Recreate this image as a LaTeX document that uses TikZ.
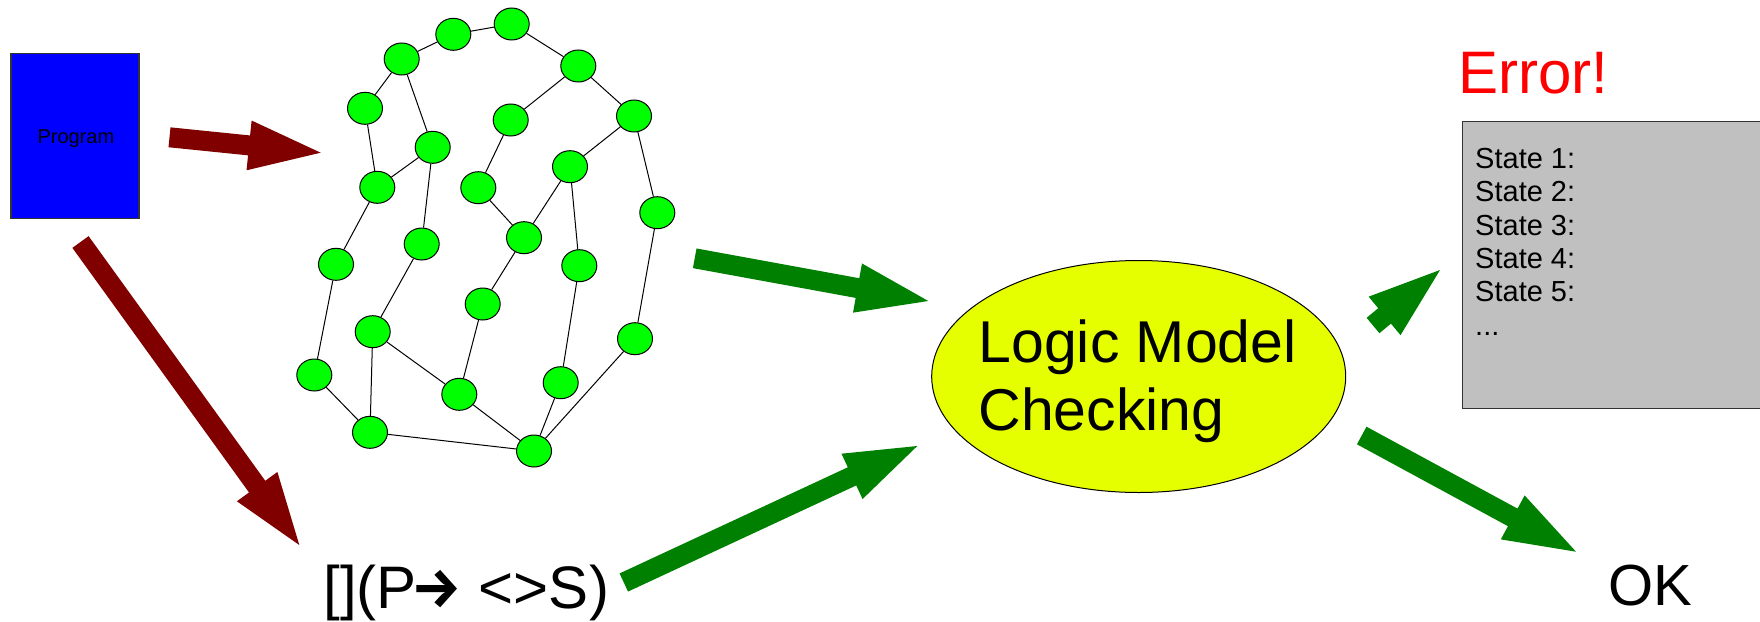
\documentclass[tikz,border=0pt]{standalone}
\usepackage{fontspec}
\setmainfont{Liberation Sans}
\newfontfamily\arrowfont{Fira Sans}
\usetikzlibrary{calc,shapes.geometric}

\definecolor{progblue}{HTML}{0000FF}
\definecolor{arrowred}{HTML}{800000}
\definecolor{arrowgreen}{HTML}{008000}
\definecolor{nodegreen}{HTML}{00FF00}
\definecolor{checkyellow}{HTML}{E6FF00}
\definecolor{tracegray}{HTML}{C0C0C0}
\definecolor{errred}{HTML}{FF0000}

% wide block arrow from tail coordinate #2 to tip coordinate #3
\newcommand\blockarrow[3]{%
  \coordinate (ba-base) at ($(#3)!72pt!(#2)$);
  \fill[#1]
    ($(#2)!10pt!90:(#3)$) --
    ($(ba-base)!10pt!90:(#3)$) --
    ($(ba-base)!25pt!90:(#3)$) --
    (#3) --
    ($(ba-base)!25pt!-90:(#3)$) --
    ($(ba-base)!10pt!-90:(#3)$) --
    ($(#2)!10pt!-90:(#3)$) -- cycle;
}

\tikzset{
  gnode/.style={ellipse, draw=black, line width=1pt, fill=nodegreen,
    minimum width=35pt, minimum height=32pt, inner sep=0pt},
  glink/.style={draw=black, line width=1pt},
  label text/.style={anchor=base west, inner sep=0pt},
}

\begin{document}
\begin{tikzpicture}[x=1pt, y=-1pt]
\useasboundingbox (0,0) rectangle (1760,621);

% program box
\node[draw=black!80, line width=1.5pt, fill=progblue, minimum width=128pt,
  minimum height=165pt, inner sep=0pt] (prog) at (75.2,135.8) {};
\node[label text, font=\fontsize{20}{24}\selectfont] (progtext) at (37.3,143.3) {Program};

% state graph
\foreach \n/\x/\y in {
  1/401.7/59, 2/453.3/34.3, 3/511.7/24, 4/578.3/66, 5/365/108.3,
  6/510.7/120, 7/634/116, 8/432.7/147.3, 9/377.3/187.3, 10/478.3/187.7,
  11/570/166.7, 12/657.3/212.7, 13/336/264.3, 14/421.7/244, 15/524/237.7,
  16/579.3/265.7, 17/482.7/304, 18/372.7/331.7, 19/635/338.7,
  20/314.3/375, 21/459.3/394.3, 22/560.7/382.7, 23/370/432.3, 24/534/451}
  \node[gnode] (n\n) at (\x,\y) {};
\foreach \a/\b in {1/2, 2/3, 3/4, 4/7, 4/6, 1/5, 1/8, 5/9, 9/8, 8/14,
  6/10, 10/15, 7/11, 11/15, 11/16, 7/12, 9/13, 14/18, 15/17, 13/20,
  18/21, 18/23, 17/21, 16/22, 12/19, 20/23, 23/24, 21/24, 22/24, 19/24}
  \draw[glink] (n\a) -- (n\b);

% model checker
\node[ellipse, draw=black, line width=1pt, fill=checkyellow,
  minimum width=414pt, minimum height=232pt, inner sep=0pt]
  (lmc) at (1138.7,376.5) {};
\node[label text, font=\fontsize{59}{67}\selectfont] (lmc1) at (978.3,362.7) {Logic Model};
\node[label text, font=\fontsize{59}{67}\selectfont] (lmc2) at (978.3,430) {Checking};

% property formula
\node[label text, font=\fontsize{60}{72}\selectfont] (prop) at (323.3,608)
  {[](P\kern-5pt\raisebox{1pt}{\arrowfont\bfseries\fontsize{56}{56}\selectfont →} <>S)};

% error trace
\node[label text, text=errred, font=\fontsize{60}{72}\selectfont] (err) at (1458.3,93.3) {Error!};
\path[draw=black!80, line width=1.5pt, fill=tracegray]
  (1462.3,121.7) rectangle (1780,408.3);
\foreach \i in {1,...,5}
  \node[label text, font=\fontsize{29}{33}\selectfont] (tr\i) at (1475,134.9+33.4*\i) {State \i:};
\node[label text, font=\fontsize{29}{33}\selectfont] (tr6) at (1475,335.3) {...};

% result
\node[label text, font=\fontsize{58}{70}\selectfont] (ok) at (1608.3,605) {OK};

% arrow end points
\coordinate (p1) at (169.5,137.3);   \coordinate (g1) at (320.7,152.7);
\coordinate (p2) at (80.5,242);      \coordinate (f1) at (299.3,545);
\coordinate (g2) at (694.7,258.3);   \coordinate (m1) at (928.3,301);
\coordinate (f2) at (623.8,582.5);   \coordinate (m2) at (917.3,446);
\coordinate (m3) at (1373,325.5);    \coordinate (t1) at (1440,270);
\coordinate (m4) at (1361.7,435.5);  \coordinate (o1) at (1576,551.7);

\blockarrow{arrowred}{p1}{g1}
\blockarrow{arrowred}{p2}{f1}
\blockarrow{arrowgreen}{g2}{m1}
\blockarrow{arrowgreen}{f2}{m2}
\blockarrow{arrowgreen}{m3}{t1}
\blockarrow{arrowgreen}{m4}{o1}
\end{tikzpicture}
\end{document}
